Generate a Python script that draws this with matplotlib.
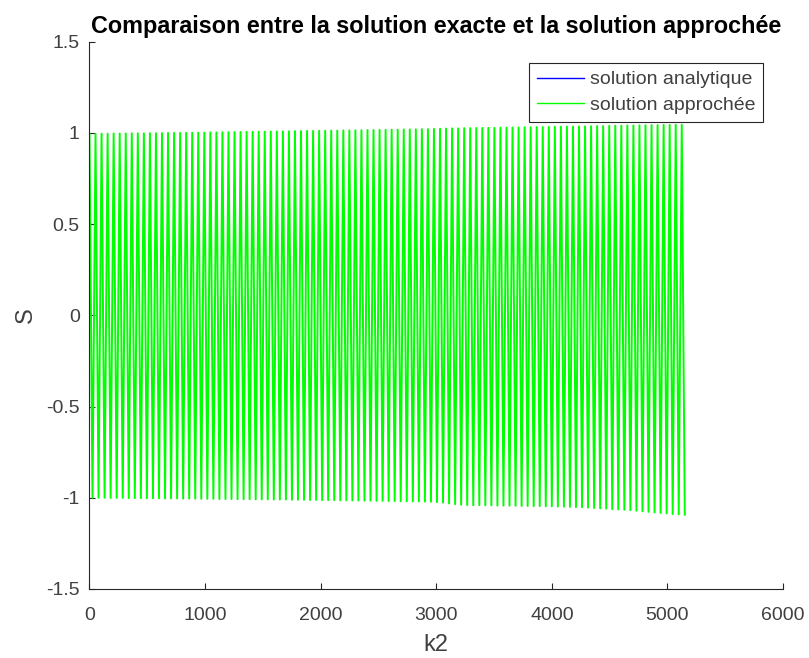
import numpy as np
import matplotlib
matplotlib.use('Agg')
import matplotlib.pyplot as plt

plt.rcParams['font.family'] = ['Liberation Sans', 'DejaVu Sans']

# fin de l'intervalle k2
k2_end = 5150

# sommets de la solution approchée (un par période)
top_peaks = [
    0.995, 0.995, 0.996, 0.996, 0.997, 0.997, 0.997, 0.998, 0.998, 0.998,
    0.999, 0.999, 0.999, 1.000, 1.000, 1.000, 1.001, 1.001, 1.002, 1.002,
    1.003, 1.003, 1.004, 1.004, 1.005, 1.005, 1.006, 1.006, 1.007, 1.007,
    1.008, 1.008, 1.009, 1.009, 1.010, 1.010, 1.011, 1.011, 1.012, 1.012,
    1.013, 1.013, 1.014, 1.014, 1.015, 1.015, 1.016, 1.016, 1.017, 1.017,
    1.018, 1.018, 1.019, 1.019, 1.020, 1.021, 1.021, 1.022, 1.023, 1.024,
    1.025, 1.025, 1.026, 1.026, 1.027, 1.027, 1.028, 1.028, 1.029, 1.029,
    1.030, 1.030, 1.031, 1.031, 1.032, 1.032, 1.033, 1.034, 1.034, 1.035,
    1.035, 1.036, 1.036, 1.037, 1.038, 1.038, 1.039, 1.040, 1.040, 1.041,
    1.041, 1.042, 1.042, 1.043, 1.043, 1.044, 1.044, 1.045, 1.045,
]
# creux de la solution approchée
bottom_troughs = [
    -1.000, -1.000, -1.000, -1.001, -1.001, -1.001, -1.002, -1.002, -1.002, -1.003,
    -1.003, -1.003, -1.004, -1.004, -1.004, -1.005, -1.005, -1.005, -1.006, -1.006,
    -1.006, -1.007, -1.007, -1.007, -1.008, -1.008, -1.008, -1.009, -1.009, -1.009,
    -1.010, -1.010, -1.010, -1.011, -1.011, -1.011, -1.012, -1.012, -1.013, -1.013,
    -1.013, -1.014, -1.014, -1.015, -1.015, -1.016, -1.016, -1.017, -1.017, -1.018,
    -1.018, -1.019, -1.019, -1.020, -1.020, -1.021, -1.022, -1.024, -1.027, -1.031,
    -1.035, -1.038, -1.040, -1.041, -1.041, -1.042, -1.042, -1.043, -1.043, -1.044,
    -1.044, -1.045, -1.045, -1.046, -1.046, -1.047, -1.047, -1.048, -1.049, -1.050,
    -1.051, -1.052, -1.054, -1.056, -1.058, -1.060, -1.062, -1.064, -1.066, -1.068,
    -1.071, -1.074, -1.077, -1.080, -1.083, -1.086, -1.089, -1.091, -1.093,
]

# courbe: alternance sommet / creux
n = len(top_peaks)
S = np.empty(2 * n)
S[0::2] = top_peaks
S[1::2] = bottom_troughs
k2 = np.linspace(0, k2_end, 2 * n)

fig = plt.figure(figsize=(8.09, 6.58), dpi=100)
ax = fig.add_axes([0.1106, 0.1049, 0.8573, 0.8317])

# la solution analytique est cachée sous la solution approchée
ax.plot(k2, S, color=(0, 0, 1), linewidth=0.15, label='solution analytique')
ax.plot(k2, S, color=(0, 1, 0), linewidth=1.4, label='solution approchée')

ax.set_xlim(0, 6000)
ax.set_ylim(-1.5, 1.5)
ax.set_xticks(np.arange(0, 6001, 1000))
ax.set_yticks(np.arange(-1.5, 1.51, 0.5))
ax.set_yticklabels(['-1.5', '-1', '-0.5', '0', '0.5', '1', '1.5'])

gray = '#262626'
lab = '#404040'
for s in ['top', 'right']:
    ax.spines[s].set_visible(False)
for s in ['left', 'bottom']:
    ax.spines[s].set_color(gray)
    ax.spines[s].set_linewidth(0.8)
ax.tick_params(direction='in', length=4.5, width=0.8, color=gray,
               labelcolor=lab, labelsize=14)
ax.tick_params(axis='x', pad=13)
ax.tick_params(axis='y', pad=7)

ax.set_xlabel('k2', fontsize=17, color=lab, labelpad=7)
ax.set_ylabel('S', fontsize=17, color=lab, labelpad=7)
ax.set_title('Comparaison entre la solution exacte et la solution approchée',
             fontsize=16.8, fontweight='bold', color='black', pad=6)

leg = ax.legend(loc='upper right', bbox_to_anchor=(0.971, 0.961), fontsize=14,
                fancybox=False, framealpha=1, edgecolor=gray,
                borderpad=0.4, labelspacing=0.4, handlelength=2.4,
                handletextpad=0.3, borderaxespad=0)
leg.get_frame().set_linewidth(0.8)
leg.get_lines()[0].set_linewidth(1.0)
leg.get_lines()[1].set_linewidth(1.0)
for t in leg.get_texts():
    t.set_color(lab)

fig.savefig('out.png', dpi=100)
